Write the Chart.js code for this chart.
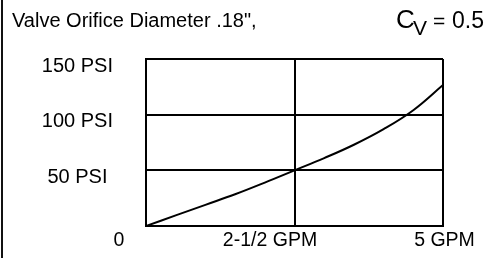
<!DOCTYPE html>
<html>
<head>
<meta charset="utf-8">
<script src="https://cdn.jsdelivr.net/npm/chart.js@4"></script>
<style>
  html, body { margin: 0; padding: 0; background: #fff; }
  canvas { display: block; }
</style>
</head>
<body>
<canvas id="c" width="485" height="258"></canvas>
<script>
// ---- data ----
const flowGPM = [0, 0.5, 1, 1.5, 2, 2.5, 3, 3.5, 4, 4.5, 5];
const pressurePSI = [0, 9.5, 19, 28.5, 39, 50, 61, 73, 87, 104, 126.6];
const xTickValues = [0, 2.5, 5];
const xTickLabels = ['0', '2-1/2 GPM', '5 GPM'];
const yTickLabels = ['', '50 PSI', '100 PSI', '150 PSI'];
const titleText = 'Valve Orifice Diameter .18",';
const cvMain = 'C';
const cvSub = 'V';
const cvEq = '=';
const cvValue = '0.5';

// ---- style ----
const FONT = '"Liberation Sans", Arial, Helvetica, sans-serif';
const xLabelShift = [-27, -24.5, 1.5];

const decor = {
  id: 'decor',
  afterDraw(chart) {
    const ctx = chart.ctx;
    const xs = chart.scales.x;
    ctx.save();
    // left page border
    ctx.fillStyle = '#111';
    ctx.fillRect(1, 0, 2, 258);
    ctx.fillStyle = '#000';
    ctx.textBaseline = 'alphabetic';
    // title
    ctx.font = '20px ' + FONT;
    ctx.textAlign = 'left';
    ctx.fillText(titleText, 12, 26.5);
    // Cv
    ctx.font = '26px ' + FONT;
    ctx.fillText(cvMain, 396, 28);
    ctx.font = '21px ' + FONT;
    ctx.fillText(cvSub, 413, 35);
    ctx.font = '21px ' + FONT;
    ctx.fillText(cvEq, 433, 27.5);
    ctx.font = '23px ' + FONT;
    ctx.textAlign = 'right';
    ctx.fillText(cvValue, 484, 27.5);
    // x tick labels
    ctx.font = '19.5px ' + FONT;
    ctx.textAlign = 'center';
    xTickValues.forEach((v, i) => {
      const px = xs.getPixelForValue(v) + xLabelShift[i];
      ctx.fillText(xTickLabels[i], px, 245.5);
    });
    ctx.restore();
  }
};

new Chart(document.getElementById('c'), {
  type: 'line',
  data: {
    datasets: [{
      data: flowGPM.map((x, i) => ({ x: x, y: pressurePSI[i] })),
      borderColor: '#000',
      borderWidth: 2,
      pointRadius: 0,
      fill: false,
      tension: 0.4
    }]
  },
  options: {
    responsive: false,
    animation: false,
    devicePixelRatio: 1,
    layout: { padding: { top: 59, right: 42, left: 0, bottom: 0 } },
    plugins: { legend: { display: false }, tooltip: { enabled: false }, title: { display: false } },
    scales: {
      x: {
        type: 'linear',
        min: 0, max: 5,
        afterBuildTicks(scale) { scale.ticks = xTickValues.map(v => ({ value: v })); },
        afterFit(scale) { scale.height = 32; scale.paddingLeft = 0; scale.paddingRight = 0; },
        grid: { color: '#000', lineWidth: 2, drawTicks: false },
        border: { display: true, color: '#000', width: 2 },
        ticks: { display: false }
      },
      y: {
        min: 0, max: 150,
        afterFit(scale) { scale.width = 146; scale.paddingTop = 0; scale.paddingBottom = 0; },
        grid: { color: '#000', lineWidth: 2, drawTicks: false },
        border: { display: true, color: '#000', width: 2 },
        ticks: {
          stepSize: 50,
          color: '#000',
          font: { family: FONT, size: 20 },
          crossAlign: 'center',
          padding: 33,
          labelOffset: 7,
          callback: (v, i) => yTickLabels[i]
        }
      }
    }
  },
  plugins: [decor]
});
</script>
</body>
</html>
